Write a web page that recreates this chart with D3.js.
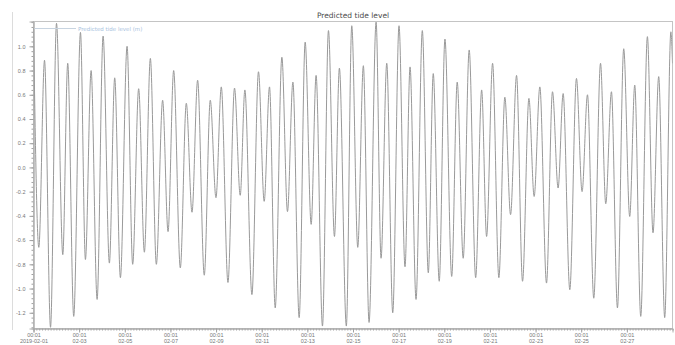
<!DOCTYPE html>
<html>
<head>
<meta charset="utf-8">
<script src="https://cdn.jsdelivr.net/npm/d3@7"></script>
<style>
  html, body { margin: 0; padding: 0; background: #fff; }
  svg { display: block; font-family: "DejaVu Sans", "Liberation Sans", sans-serif; }
</style>
</head>
<body>
<svg id="chart" width="675" height="345"></svg>
<script>
// Tide predictions: successive high / low waters, hours after 2019-02-01 00:01
const extremaHours = [
  0, 5.6, 11.6, 17.9, 24.2, 30.8, 36.0, 42.3, 49.4, 54.6,
  60.6, 66.9, 73.2, 79.8, 85.4, 91.4, 98.4, 104.3, 110.6, 116.6,
  122.9, 129.2, 135.8, 141.5, 147.4, 154.4, 160.7, 166.7, 172.6, 179.6,
  185.9, 191.9, 197.5, 204.5, 211.4, 217.4, 222.3, 229.7, 236.6, 242.6,
  248.2, 254.2, 261.2, 267.1, 272.8, 279.4, 285.7, 292.0, 297.2, 303.9,
  310.2, 316.5, 321.7, 329.0, 334.7, 341.0, 346.9, 352.9, 360.3, 365.5,
  371.5, 377.8, 384.4, 390.7, 396.0, 402.3, 408.9, 415.2, 420.4, 426.7,
  432.7, 439.8, 445.6, 451.9, 458.2, 465.0, 471.3, 476.5, 482.8, 489.4,
  495.7, 501.7, 508.0, 514.3, 521.0, 526.5, 532.5, 539.5, 545.8, 551.7,
  557.0, 564.0, 571.0, 576.9, 582.6, 589.2, 596.3, 601.8, 607.8, 614.1,
  620.7, 627.0, 632.3, 638.6, 645.6, 651.5, 657.5, 663.8, 670.3, 672.0
];
// Water level (m) at each of those times
const extremaLevels = [
  1.15, -0.66, 0.885, -1.32, 1.19, -0.72, 0.86, -1.23, 1.115, -0.76,
  0.80, -1.09, 1.085, -0.79, 0.74, -0.91, 1.00, -0.80, 0.65, -0.70,
  0.90, -0.80, 0.555, -0.53, 0.80, -0.83, 0.53, -0.37, 0.72, -0.89,
  0.555, -0.25, 0.665, -0.95, 0.655, -0.23, 0.64, -1.05, 0.79, -0.28,
  0.665, -1.16, 0.91, -0.365, 0.705, -1.24, 1.035, -0.47, 0.76, -1.31,
  1.13, -0.57, 0.82, -1.31, 1.17, -0.66, 0.84, -1.28, 1.20, -0.75,
  0.86, -1.20, 1.17, -0.82, 0.83, -1.09, 1.13, -0.87, 0.775, -0.94,
  1.06, -0.90, 0.705, -0.75, 0.97, -0.91, 0.64, -0.57, 0.86, -0.91,
  0.58, -0.39, 0.76, -0.94, 0.57, -0.24, 0.665, -0.955, 0.625, -0.17,
  0.61, -1.01, 0.735, -0.20, 0.60, -1.08, 0.86, -0.30, 0.625, -1.16,
  0.98, -0.405, 0.68, -1.23, 1.08, -0.54, 0.75, -1.24, 1.12, 0.86
];
// Axis ticks
const yTicks = [-1.2, -1.0, -0.8, -0.6, -0.4, -0.2, 0.0, 0.2, 0.4, 0.6, 0.8, 1.0];
const xTickDays = [0, 2, 4, 6, 8, 10, 12, 14, 16, 18, 20, 22, 24, 26];
const xTickDates = ["2019-02-01", "02-03", "02-05", "02-07", "02-09", "02-11", "02-13",
                    "02-15", "02-17", "02-19", "02-21", "02-23", "02-25", "02-27"];
const xTickTime = "00:01";
const titleText = "Predicted tide level";
const legendText = "Predicted tide level (m)";

const W = 675, H = 345;
const plot = { left: 33.5, top: 21.5, right: 672.5, bottom: 328.5 };
const t0 = Date.UTC(2019, 1, 1, 0, 1);
const HOUR = 3600e3, DAY = 24 * HOUR;

const data = extremaHours.map((h, i) => ({ t: new Date(t0 + h * HOUR), v: extremaLevels[i] }));

const svg = d3.select("#chart");

const x = d3.scaleUtc()
  .domain([new Date(t0), new Date(t0 + 28 * DAY)])
  .range([plot.left, plot.right]);
const y = d3.scaleLinear()
  .domain([-1.33, 1.205])
  .range([plot.bottom, plot.top]);

// outer frame edge
svg.append("line")
  .attr("x1", 12.5).attr("x2", 12.5).attr("y1", 12).attr("y2", 330)
  .attr("stroke", "#dcdcdc");

// plot frame
svg.append("rect")
  .attr("x", plot.left).attr("y", plot.top)
  .attr("width", plot.right - plot.left).attr("height", plot.bottom - plot.top)
  .attr("fill", "none").attr("stroke", "#c4c4c4");

// title
svg.append("text")
  .attr("x", 353).attr("y", 18)
  .attr("text-anchor", "middle")
  .attr("font-size", 7.5).attr("fill", "#4a4a4a")
  .text(titleText);

// y axis: minor then major ticks
const yAxisG = svg.append("g").attr("transform", `translate(${plot.left},0)`);
yAxisG.call(d3.axisLeft(y)
  .tickValues(d3.range(-1.32, 1.2001, 0.04).map(v => +v.toFixed(2)))
  .tickSize(2).tickFormat(""));
yAxisG.append("g").call(d3.axisLeft(y)
  .tickValues(yTicks).tickSize(4)
  .tickFormat(d => d3.format(".1f")(d).replace("−", "-")));
yAxisG.selectAll(".domain").attr("stroke", "#b0b0b0");
yAxisG.selectAll("line").attr("stroke", "#a0a0a0");
yAxisG.selectAll("text").attr("font-size", 5.5).attr("fill", "#777").attr("dx", -1);

// x axis: minor ticks every 3 hours, labelled ticks every 2 days
const xAxisG = svg.append("g").attr("transform", `translate(0,${plot.bottom})`);
xAxisG.call(d3.axisBottom(x)
  .tickValues(d3.range(0, 28 * 24 + 1, 3).map(h => new Date(t0 + h * HOUR)))
  .tickSize(2).tickFormat(""));
const major = xAxisG.append("g").call(d3.axisBottom(x)
  .tickValues(xTickDays.map(d => new Date(t0 + d * DAY)))
  .tickSize(4).tickFormat(""));
xAxisG.selectAll(".domain").attr("stroke", "#b0b0b0");
xAxisG.selectAll("line").attr("stroke", "#a0a0a0");
major.selectAll(".tick").each(function (d, i) {
  const t = d3.select(this).append("text")
    .attr("text-anchor", "middle").attr("font-size", 5.5).attr("fill", "#777");
  t.append("tspan").attr("x", 0).attr("y", 8).text(xTickTime);
  t.append("tspan").attr("x", 0).attr("y", 14).text(xTickDates[i]);
});

// clip for the series
svg.append("clipPath").attr("id", "plotClip")
  .append("rect")
  .attr("x", plot.left).attr("y", plot.top - 1)
  .attr("width", plot.right - plot.left).attr("height", plot.bottom - plot.top + 2);

const line = d3.line()
  .x(d => x(d.t))
  .y(d => y(d.v))
  .curve(d3.curveMonotoneX);

svg.append("path")
  .datum(data)
  .attr("clip-path", "url(#plotClip)")
  .attr("fill", "none")
  .attr("stroke", "#999")
  .attr("stroke-width", 1)
  .attr("d", line);

// legend
svg.append("line")
  .attr("x1", plot.left + 1).attr("x2", 76).attr("y1", 28.5).attr("y2", 28.5)
  .attr("stroke", "#c8d4e0").attr("stroke-width", 1);
svg.append("text")
  .attr("x", 78).attr("y", 30.5)
  .attr("font-size", 5.5).attr("fill", "#a9c3de")
  .text(legendText);
</script>
</body>
</html>
